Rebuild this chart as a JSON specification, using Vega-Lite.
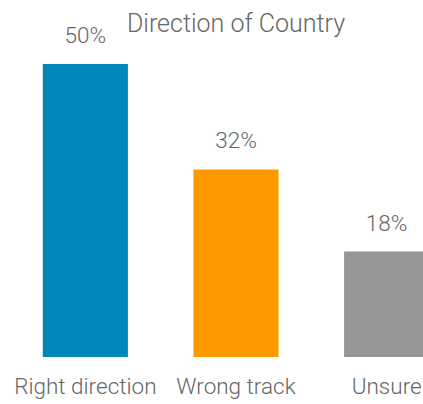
{
  "$schema": "https://vega.github.io/schema/vega-lite/v6.json",
  "width": 452,
  "height": 293,
  "autosize": {"type": "none"},
  "padding": {"left": 10, "top": 64, "right": 0, "bottom": 47},
  "background": "white",
  "title": {"text": "Direction of Country", "anchor": "middle", "fontSize": 25, "font": "Roboto", "fontWeight": 300, "color": "#666666", "offset": 0, "baseline": "alphabetic", "dy": 32},
  "data": {"values": [
    {"category": "Right direction", "value": 0.50, "label": "50%"},
    {"category": "Wrong track", "value": 0.32, "label": "32%"},
    {"category": "Unsure", "value": 0.18, "label": "18%"}
  ]},
  "encoding": {
    "x": {"field": "category", "type": "nominal", "sort": null,
      "scale": {"paddingInner": 0.435, "paddingOuter": 0.2175},
      "axis": {"title": null, "domain": false, "ticks": false, "labelAngle": 0, "labelFontSize": 22.5, "labelFont": "Roboto", "labelFontWeight": 300, "labelColor": "#666666", "labelPadding": 18}},
    "y": {"field": "value", "type": "quantitative", "scale": {"domain": [0, 0.5]}, "axis": null}
  },
  "layer": [
    {"mark": {"type": "bar"},
     "encoding": {"color": {"field": "category", "type": "nominal", "sort": null, "legend": null,
       "scale": {"domain": ["Right direction", "Wrong track", "Unsure"], "range": ["#0087B9", "#FF9900", "#969696"]}}}},
    {"mark": {"type": "text", "baseline": "alphabetic", "dy": -21, "fontSize": 22.5, "font": "Roboto", "fontWeight": 300, "color": "#666666"},
     "encoding": {"text": {"field": "label"}}}
  ],
  "config": {"view": {"stroke": null}}
}
